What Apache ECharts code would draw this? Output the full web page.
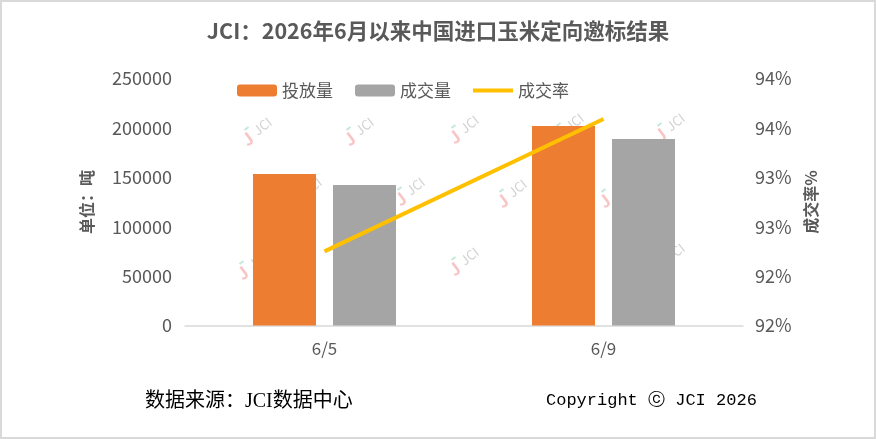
<!DOCTYPE html>
<html>
<head>
<meta charset="utf-8">
<script src="https://cdn.jsdelivr.net/npm/echarts@6/dist/echarts.min.js"></script>
<style>
  html, body { margin: 0; padding: 0; background: #fff; }
  #chart { width: 876px; height: 439px; }
  #frame { position: absolute; left: 0; top: 0; width: 876px; height: 439px; box-sizing: border-box; border: 2px solid #d9d9d9; pointer-events: none; }
</style>
</head>
<body>
<div id="chart"></div>
<div id="frame"></div>
<script>
(function() {
  var dates = ['6/5', '6/9'];
  var supply = [153300, 201900];      // 投放量
  var dealt = [142200, 188800];       // 成交量
  var rate = [92.25, 93.59];          // 成交率 %

  var ink = '#595959';
  var cjk = '"Noto Sans CJK SC", "Noto Sans", sans-serif';

  // faint JCI watermarks behind the bars
  var marks = [
    [255, 132], [357, 132], [462, 130], [567, 128], [668, 128],
    [305, 192], [408, 192], [510, 194], [612, 194],
    [250, 266], [355, 266], [462, 262], [565, 260], [668, 258]
  ];
  var graphics = marks.map(function(p) {
    return {
      type: 'group', x: p[0], y: p[1], rotation: Math.PI * 38 / 180, z: 0, silent: true,
      children: [
        { type: 'text', style: { text: 'J', x: -15, y: 1, fill: '#f9c4c4', font: 'bold 17px ' + cjk, textVerticalAlign: 'middle' } },
        { type: 'rect', shape: { x: -7, y: -9, width: 5, height: 2 }, style: { fill: '#c6e8d6' } },
        { type: 'text', style: { text: 'JCI', x: 0, y: 0, fill: '#d2d2d2', font: '13px ' + cjk, textVerticalAlign: 'middle' } }
      ]
    };
  });
  graphics.push({
    type: 'text', left: 145, top: 392, z: 10,
    style: { text: '数据来源：JCI数据中心', fill: '#000', font: '20px "Liberation Serif", ' + cjk }
  });
  graphics.push({
    type: 'text', left: 546, top: 392, z: 10,
    style: { text: 'Copyright ⓒ JCI 2026', fill: '#000', font: '17px "Liberation Mono", monospace' }
  });

  var chart = echarts.init(document.getElementById('chart'), null, { renderer: 'canvas' });
  chart.setOption({
    animation: false,
    textStyle: { fontFamily: cjk },
    title: {
      text: 'JCI：2026年6月以来中国进口玉米定向邀标结果',
      left: 'center', top: 15,
      textStyle: { color: ink, fontSize: 21.5, fontWeight: 'bold', fontFamily: cjk }
    },
    legend: {
      left: 232, top: 77,
      itemWidth: 40, itemHeight: 12, itemGap: 22,
      textStyle: { color: ink, fontSize: 17 },
      data: [
        { name: '投放量' },
        { name: '成交量' },
        { name: '成交率', icon: 'path://M0,0 L40,0 L40,4 L0,4 Z', itemStyle: { color: '#ffc000' } }
      ]
    },
    grid: { left: 185, right: 133, top: 78.5, bottom: 113.5, outerBoundsMode: 'none' },
    graphic: graphics,
    xAxis: {
      type: 'category',
      data: dates,
      axisLine: { lineStyle: { color: '#d9d9d9', width: 1.5 } },
      axisTick: { show: false },
      axisLabel: { color: ink, fontSize: 17, margin: 15 }
    },
    yAxis: [{
      type: 'value',
      min: 0, max: 250000, interval: 50000,
      name: '单位：吨',
      nameLocation: 'middle', nameRotate: 90, nameGap: 90,
      nameTextStyle: { color: ink, fontSize: 16, fontWeight: 'bold' },
      axisLine: { show: false },
      axisTick: { show: false },
      splitLine: { show: false },
      axisLabel: {
        color: ink, fontSize: 18, margin: 13,
        formatter: function(v) { return String(v); }
      }
    }, {
      type: 'value',
      min: 91.5, max: 94, interval: 0.5,
      name: '成交率%',
      nameLocation: 'middle', nameRotate: 90, nameGap: 60,
      nameTextStyle: { color: ink, fontSize: 16, fontWeight: 'bold' },
      axisLine: { show: false },
      axisTick: { show: false },
      splitLine: { show: false },
      axisLabel: {
        color: ink, fontSize: 18, margin: 12,
        formatter: function(v) { return v.toFixed(0) + '%'; }
      }
    }],
    series: [{
      name: '投放量', type: 'bar', data: supply,
      barWidth: 63, barGap: '27%', z: 2,
      itemStyle: { color: '#ed7d31' }
    }, {
      name: '成交量', type: 'bar', data: dealt,
      barWidth: 63, z: 2,
      itemStyle: { color: '#a5a5a5' }
    }, {
      name: '成交率', type: 'line', data: rate, yAxisIndex: 1,
      symbol: 'none', z: 3,
      lineStyle: { color: '#ffc000', width: 4 },
      itemStyle: { color: '#ffc000' }
    }]
  });
  window.addEventListener('resize', function() { chart.resize(); });
})();
</script>
</body>
</html>
